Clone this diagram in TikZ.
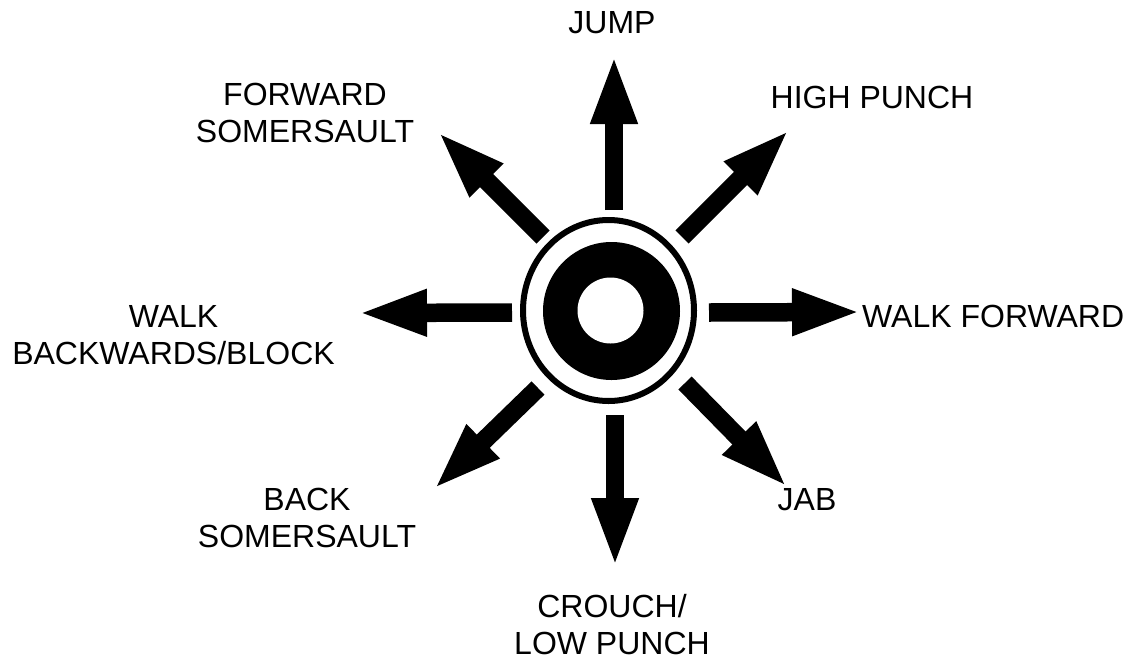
\documentclass[tikz,border=0pt]{standalone}
\usepackage{fontspec}
\setmainfont{Liberation Sans}
\usetikzlibrary{arrows.meta}
\begin{document}
\begin{tikzpicture}[x=1pt,y=-1pt,
  lbl/.style={inner sep=0pt, align=center, font=\fontsize{32pt}{37pt}\selectfont},
  bigarrow/.style={line width=18.5pt, -{Triangle[length=70pt,width=42pt]}}]
\useasboundingbox[fill=white] (0,0) rectangle (1136,662);
% joystick
\fill[black] (611.5,311) ellipse [x radius=68.5, y radius=69];
\fill[white] (610.5,310.5) circle [radius=33];
\draw[line width=6pt] (608.5,310.5) ellipse [x radius=85.5, y radius=90.5];
% arrow end points
\coordinate (us) at (614,210);   \coordinate (ut) at (614,54);
\coordinate (ds) at (615,415);   \coordinate (dt) at (615,568);
\coordinate (ls) at (512,312.5); \coordinate (lt) at (357,313);
\coordinate (rs) at (709,312.5); \coordinate (rt) at (862,312);
\coordinate (uls) at (543,237);  \coordinate (ult) at (437,131);
\coordinate (urs) at (682,237);  \coordinate (urt) at (790,129);
\coordinate (dls) at (538,388);  \coordinate (dlt) at (433,490);
\coordinate (drs) at (685,383);  \coordinate (drt) at (788,488);
\foreach \a in {u,d,l,r,ul,ur,dl,dr}
  \draw[bigarrow] (\a s) -- (\a t);
% labels
\node[lbl] (jump) at (612,23) {JUMP};
\node[lbl] (fsom) at (305,113) {FORWARD\\SOMERSAULT};
\node[lbl] (hpunch) at (872,97) {HIGH PUNCH};
\node[lbl] (wback) at (173.5,335) {WALK\hspace{25pt}\\BACKWARDS/BLOCK};
\node[lbl, anchor=west] (wfwd) at (862,316) {WALK FORWARD};
\node[lbl] (bsom) at (307,518) {BACK\\SOMERSAULT};
\node[lbl] (jab) at (807,500) {JAB};
\node[lbl] (crouch) at (612,625) {CROUCH/\\LOW PUNCH};
\end{tikzpicture}
\end{document}
